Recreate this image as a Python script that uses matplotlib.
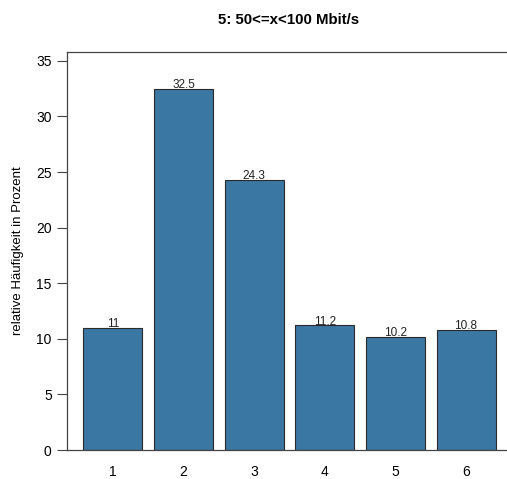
import matplotlib
matplotlib.use("Agg")
import matplotlib.pyplot as plt

plt.rcParams['font.family'] = ['Liberation Sans', 'DejaVu Sans']

categories = [1, 2, 3, 4, 5, 6]
values = [11, 32.5, 24.3, 11.2, 10.2, 10.8]
bar_labels = ['11', '32.5', '24.3', '11.2', '10.2', '10.8']

fig = plt.figure(figsize=(5.07, 4.79), dpi=100)
W, H = 507, 479
ax = fig.add_axes([67 / W, 1 - 450 / H, (W - 67) / W, (450 - 52) / H])

ax.bar(categories, values, width=0.835, color='#3B77A3', edgecolor='#2a2a2a', linewidth=0.8)
for x, v, lab in zip(categories, values, bar_labels):
    ax.annotate(lab, (x, v), xytext=(0, -1.5), textcoords='offset points',
                ha='center', va='bottom', fontsize=8.5, color='#222222')

ax.set_xlim(0.35, 6.58)
ax.set_ylim(0, 35.8)
ax.set_yticks([0, 5, 10, 15, 20, 25, 30, 35])
ax.set_xticks(categories)
ax.tick_params(axis='x', length=0, pad=10.5, labelsize=10)
ax.tick_params(axis='y', length=7, width=0.8, color='#444444', labelsize=10, pad=4)
for s in ['left', 'top', 'bottom']:
    ax.spines[s].set_color('#444444')
    ax.spines[s].set_linewidth(0.9)
ax.spines['right'].set_visible(False)

ax.set_ylabel('relative Häufigkeit in Prozent', fontsize=9.5, labelpad=9)
fig.text(289 / W, 1 - 20 / H, '5: 50<=x<100 Mbit/s', ha='center', va='center',
         fontsize=10.8, fontweight='bold')

fig.savefig('out.png', dpi=100)
